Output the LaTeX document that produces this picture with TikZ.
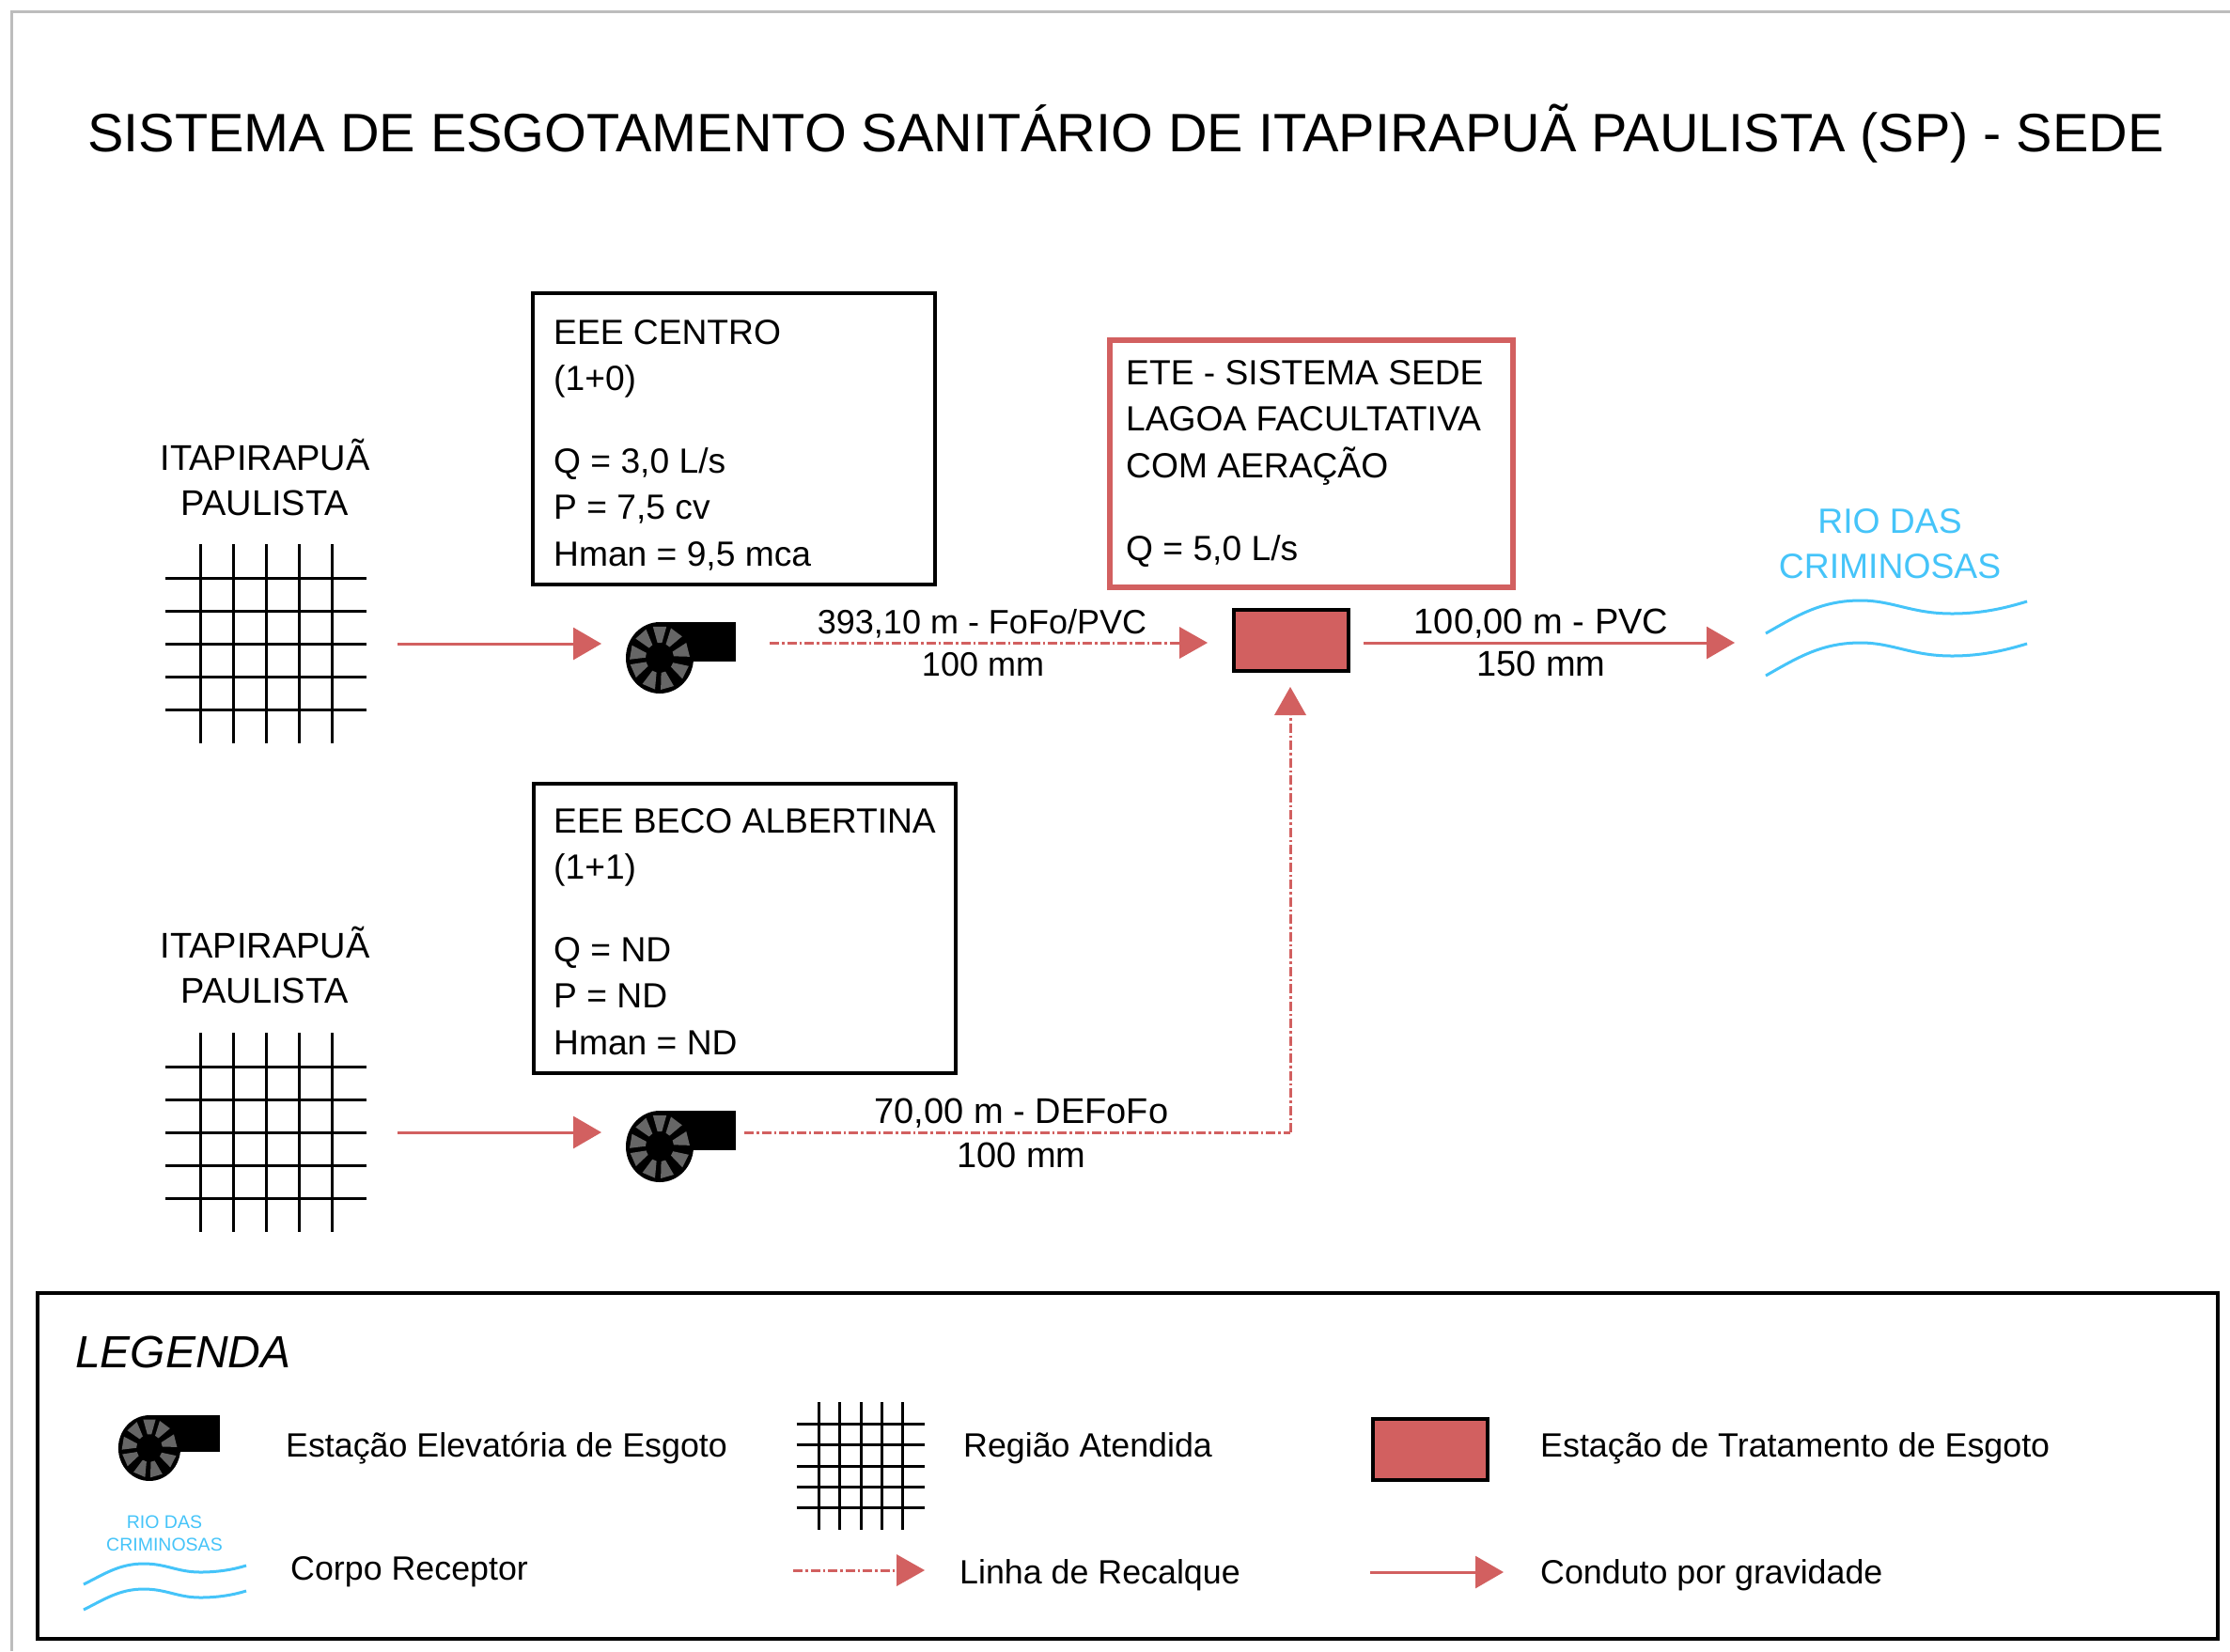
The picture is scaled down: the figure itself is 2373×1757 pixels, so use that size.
\documentclass[tikz,border=0pt]{standalone}
\usepackage{fontspec}
\setmainfont{Liberation Sans}
\usetikzlibrary{arrows.meta}
\definecolor{redm}{HTML}{D26060}
\definecolor{riverb}{HTML}{45C4F9}
\definecolor{bladeg}{HTML}{666666}
\definecolor{frameg}{HTML}{BDBDBD}
\newcommand{\bodyf}{\fontsize{38}{48}\selectfont}
\newcommand{\boxf}{\fontsize{37.2}{49.5}\selectfont}
\newcommand{\pipef}{\fontsize{36}{44}\selectfont}
\newcommand{\legf}{\fontsize{35.8}{44}\selectfont}
\tikzset{
  x=1pt,y=-1pt,
  labeltext/.style={font=\bodyf,inner sep=0pt,align=center,anchor=center},
  boxtext/.style={font=\boxf,inner sep=0pt,align=left,anchor=north west},
  legtext/.style={font=\legf,inner sep=0pt,anchor=west},
  bluetext/.style={labeltext,font=\fontsize{37.3}{48}\selectfont,text=riverb},
  smallblue/.style={font=\fontsize{19.5}{24}\selectfont,inner sep=0pt,align=center,text=riverb},
  blackbox/.style={draw=black,line width=4pt,inner sep=0pt,anchor=north west},
  redbox/.style={draw=redm,line width=6pt,inner sep=0pt,anchor=north west},
  plant/.style={draw=black,fill=redm,line width=4pt,inner sep=0pt,anchor=north west},
  gravity/.style={draw=redm,line width=3pt,-{Triangle[length=30pt,width=34pt]},color=redm},
  pressure/.style={draw=redm,line width=3pt,dash pattern=on 10pt off 3pt on 2.5pt off 3pt,-{Triangle[length=30pt,width=34pt,fill=redm,line width=0pt,sep=0pt]},color=redm},
  pressureplain/.style={draw=redm,line width=3pt,dash pattern=on 10pt off 3pt on 2.5pt off 3pt},
  gridline/.style={draw=black,line width=3pt},
  riverline/.style={draw=riverb,line width=3pt},
  pump/.pic={
    \fill[black] (0,-38) rectangle (81,4);
    \fill[black] (0,0) ellipse [x radius=36,y radius=38];
    \foreach \a in {-170,-130,-90,-55,-15,28,75,112,155}{
      \fill[bladeg] (\a-9:15 and 16) -- (\a-13:32 and 34) -- (\a+13:32 and 34) -- (\a+9:15 and 16) -- cycle;
    }
  },
  servedgrid/.pic={
    \foreach \px in {-70,-35,0,35,70}{\draw[gridline] (\px,-106) -- (\px,106);}
    \foreach \py in {-70,-35,0,35,70}{\draw[gridline] (-107,\py) -- (107,\py);}
  },
  riverpic/.pic={
    \foreach \dy in {0,45}{
      \draw[riverline] (0,35+\dy) .. controls (35,15+\dy) and (60,0+\dy) .. (101,0+\dy)
        .. controls (135,0+\dy) and (155,14+\dy) .. (198,14+\dy)
        .. controls (230,14+\dy) and (255,8+\dy) .. (278,1+\dy);
    }
  },
  legendriver/.pic={
    \foreach \dy in {0,27}{
      \draw[draw=riverb,line width=3pt] (0,22+\dy) .. controls (22,11+\dy) and (38,0+\dy) .. (64,0+\dy)
        .. controls (88,0+\dy) and (100,9+\dy) .. (124,9+\dy)
        .. controls (144,9+\dy) and (160,6+\dy) .. (173,2+\dy);
    }
  }
}
\begin{document}
\begin{tikzpicture}
\useasboundingbox (0,0) rectangle (2373,1757);
\fill[white] (0,0) rectangle (2373,1757);
% page frame
\draw[frameg,line width=3pt] (12,1757) -- (12,12) -- (2373,12);
% title
\node[font=\fontsize{57.6}{60}\selectfont,inner sep=0pt] (title) at (1198,142) {SISTEMA DE ESGOTAMENTO SANITÁRIO DE ITAPIRAPUÃ PAULISTA (SP) - SEDE};

% served regions
\node[labeltext] (itaA) at (282,508) {ITAPIRAPUÃ\\PAULISTA};
\node[labeltext] (itaB) at (282,1027) {ITAPIRAPUÃ\\PAULISTA};
\pic at (283,685) {servedgrid};
\pic at (283,1205) {servedgrid};
\coordinate (gridAout) at (423,685);
\coordinate (gridBout) at (423,1205);

% EEE boxes
\node[blackbox,minimum width=428pt,minimum height=310pt] (boxA) at (564.5,310) {};
\node[boxtext] (boxAt) at (589,340) {EEE CENTRO\\(1+0)\\[38pt]Q = 3,0 L/s\\P = 7,5 cv\\Hman = 9,5 mca};
\node[blackbox,minimum width=449pt,minimum height=308pt] (boxB) at (565.5,832) {};
\node[boxtext] (boxBt) at (589,860) {EEE BECO ALBERTINA\\(1+1)\\[38pt]Q = ND\\P = ND\\Hman = ND};

% pumps
\pic at (702,700) {pump};
\pic at (702,1220) {pump};
\coordinate (pumpAin) at (640,685);
\coordinate (pumpBin) at (640,1205);
\coordinate (pumpAout) at (819,684);
\coordinate (pumpBout) at (792,1205);
\draw[gravity] (gridAout) -- (pumpAin);
\draw[gravity] (gridBout) -- (pumpBin);

% ETE
\node[redbox,minimum width=429pt,minimum height=263pt] (eteBox) at (1178,359) {};
\node[boxtext] (eteText) at (1198,383) {ETE - SISTEMA SEDE\\LAGOA FACULTATIVA\\COM AERAÇÃO\\[39pt]Q = 5,0 L/s};
\node[plant,minimum width=121.5pt,minimum height=65pt] (ete) at (1311,647) {};
\coordinate (eteW) at (1285,684);
\coordinate (eteS) at (1373,731);
\coordinate (eteE) at (1451,684);
\coordinate (riverIn) at (1846,684);
\coordinate (corner) at (1373,1205);
\draw[pressure] (pumpAout) -- (eteW);
\draw[pressureplain] (pumpBout) -- (corner);
\draw[pressure] (corner) -- (eteS);
\draw[gravity] (eteE) -- (riverIn);

% pipe labels
\node[labeltext,font=\pipef] (pipeA1) at (1045,664) {393,10 m - FoFo/PVC};
\node[labeltext,font=\pipef] (pipeA2) at (1046,707) {100 mm};
\node[labeltext] (pipeC1) at (1640,664) {100,00 m - PVC};
\node[labeltext] (pipeC2) at (1640,706) {150 mm};
\node[labeltext] (pipeB1) at (1087,1184.5) {70,00 m - DEFoFo};
\node[labeltext] (pipeB2) at (1087,1229) {100 mm};

% river
\node[bluetext] (rioT) at (2011,579) {RIO DAS\\CRIMINOSAS};
\pic at (1879,639) {riverpic};

% legend
\node[blackbox,minimum width=2320pt,minimum height=368pt] (legBox) at (38,1374) {};
\node[font=\fontsize{48}{50}\selectfont\itshape,inner sep=0pt,anchor=west] (legT) at (80,1439) {LEGENDA};
\pic[scale=0.92] at (159,1541) {pump};
\node[legtext] (l1) at (304,1541) {Estação Elevatória de Esgoto};
\pic[scale=0.64] at (916,1560) {servedgrid};
\node[legtext] (l2) at (1025,1541) {Região Atendida};
\node[plant,minimum width=121.5pt,minimum height=65pt] (legEte) at (1459,1508) {};
\node[legtext] (l3) at (1639,1541) {Estação de Tratamento de Esgoto};
\node[smallblue] (legRio) at (175,1632) {RIO DAS\\CRIMINOSAS};
\pic at (89,1664) {legendriver};
\node[legtext] (l4) at (309,1673) {Corpo Receptor};
\coordinate (lrA) at (844,1671);
\coordinate (lrB) at (984,1671);
\draw[pressure] (lrA) -- (lrB);
\node[legtext] (l5) at (1021,1676) {Linha de Recalque};
\coordinate (lgA) at (1458,1673);
\coordinate (lgB) at (1600,1673);
\draw[gravity] (lgA) -- (lgB);
\node[legtext] (l6) at (1639,1676) {Conduto por gravidade};
\end{tikzpicture}
\end{document}
